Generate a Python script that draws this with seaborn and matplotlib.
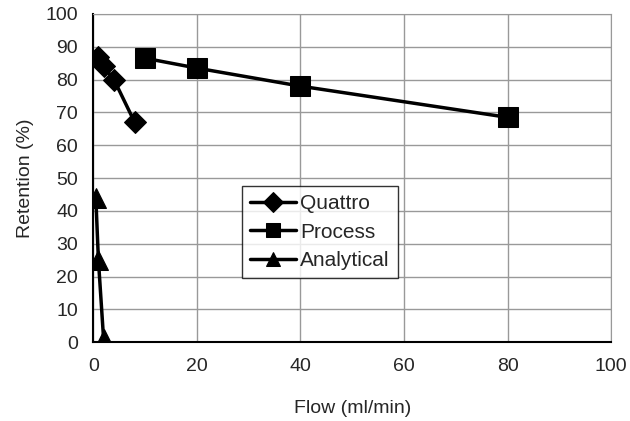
import matplotlib
matplotlib.use("Agg")
import matplotlib.pyplot as plt
import seaborn as sns
import pandas as pd

# data
quattro_flow = [1, 2, 4, 8]
quattro_ret = [87, 84, 80, 67]
process_flow = [10, 20, 40, 80]
process_ret = [86.5, 83.5, 78, 68.5]
analytical_flow = [0.5, 1, 2]
analytical_ret = [44, 25, 1]

df = pd.concat([
    pd.DataFrame({"flow": quattro_flow, "ret": quattro_ret, "series": "Quattro"}),
    pd.DataFrame({"flow": process_flow, "ret": process_ret, "series": "Process"}),
    pd.DataFrame({"flow": analytical_flow, "ret": analytical_ret, "series": "Analytical"}),
])

sns.set_style("white")
plt.rcParams["font.family"] = ["Liberation Sans", "DejaVu Sans"]

fig, ax = plt.subplots(figsize=(6.3, 4.21), dpi=100)
fig.subplots_adjust(left=0.148, right=0.97, bottom=0.187, top=0.967)

sns.lineplot(data=df, x="flow", y="ret", hue="series", style="series",
             markers={"Quattro": "D", "Process": "s", "Analytical": "^"},
             dashes=False, palette=["black"] * 3, linewidth=2.5,
             sort=False, ax=ax, estimator=None)
for ln, ms in zip(ax.lines, [11, 15, 14]):
    ln.set_markersize(ms)
    ln.set_markeredgecolor("black")

ax.set_xlim(0, 100)
ax.set_ylim(0, 100)
ax.set_xticks(range(0, 101, 20))
ax.set_yticks(range(0, 101, 10))
ax.grid(True, color="#999999", linewidth=1)
ax.set_axisbelow(True)
ax.tick_params(labelsize=14, length=0)
ax.tick_params(axis="x", pad=11)
ax.tick_params(axis="y", pad=11)
ax.set_xlabel("Flow (ml/min)", fontsize=14, labelpad=18)
ax.set_ylabel("Retention (%)", fontsize=14, labelpad=8)
for s in ["left", "bottom"]:
    ax.spines[s].set_color("black")
    ax.spines[s].set_linewidth(1.5)
for s in ["top", "right"]:
    ax.spines[s].set_color("#999999")

handles, labels = ax.get_legend_handles_labels()
leg = ax.legend(handles, labels, loc="lower left", bbox_to_anchor=(0.287, 0.195),
                fontsize=15, frameon=True, fancybox=False, edgecolor="black",
                handlelength=2.2, borderpad=0.4, labelspacing=0.45, handletextpad=0.2,
                borderaxespad=0)
leg.get_frame().set_linewidth(1)
for h in leg.legend_handles:
    h.set_markeredgecolor("black")
    h.set_markersize(10)

fig.savefig("out.png", dpi=100)
